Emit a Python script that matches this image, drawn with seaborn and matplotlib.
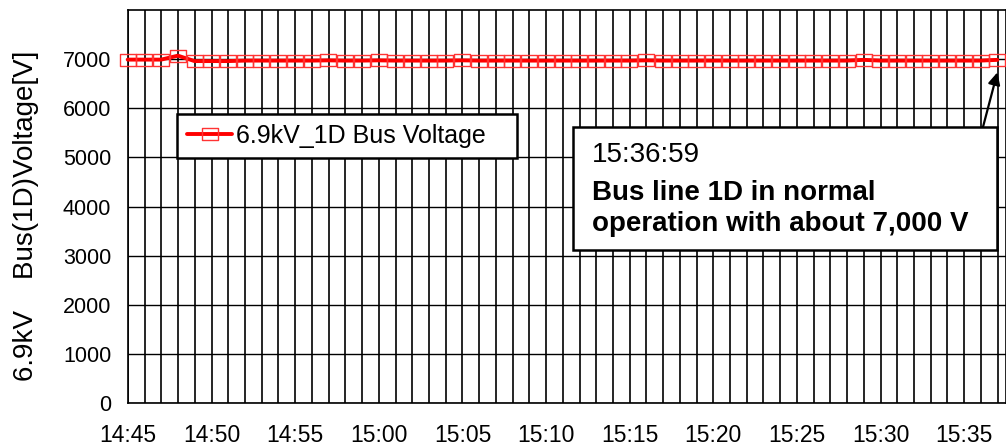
import pandas as pd
import seaborn as sns
import matplotlib.pyplot as plt
import matplotlib.dates as mdates
from matplotlib.path import Path
from matplotlib.patches import Rectangle

# Datos: tension del bus 6.9kV 1D, una muestra por minuto (hh:mm:59)
times = pd.date_range('2011-03-11 14:44:59', '2011-03-11 15:36:59', freq='1min')
voltage = [6990, 6990, 6990, 7070, 6960, 6960, 6960, 6970, 6970, 6970,
           6970, 6970, 6975, 6970, 6970, 6975, 6970, 6970, 6970, 6970,
           6975, 6970, 6970, 6970, 6970, 6970, 6970, 6970, 6970, 6970,
           6970, 6975, 6970, 6970, 6970, 6970, 6970, 6970, 6970, 6970,
           6970, 6970, 6970, 6970, 6985, 6970, 6970, 6970, 6970, 6970,
           6970, 6970, 6985]
yticks = [0, 1000, 2000, 3000, 4000, 5000, 6000, 7000]
series_label = '6.9kV_1D Bus Voltage'
note_time = '15:36:59'
note_text = 'Bus line 1D in normal\noperation with about 7,000 V'

df = pd.DataFrame({'time': times, 'voltage': voltage})

sns.set_style('white')
plt.rcParams['font.family'] = ['Liberation Sans', 'DejaVu Sans']
plt.rcParams['text.color'] = 'black'
plt.rcParams['axes.labelcolor'] = 'black'
plt.rcParams['xtick.color'] = 'black'
plt.rcParams['ytick.color'] = 'black'

fig = plt.figure(figsize=(10.06, 4.48), dpi=100)
ax = fig.add_axes([0.1272, 0.1004, 0.8728, 0.8773])

# marcador rectangular (mas ancho que alto)
rect = Path([(-1.3, -1), (1.3, -1), (1.3, 1), (-1.3, 1), (-1.3, -1)],
            [Path.MOVETO, Path.LINETO, Path.LINETO, Path.LINETO, Path.CLOSEPOLY])

sns.lineplot(data=df, x='time', y='voltage', ax=ax, color='red', linewidth=2.8,
             marker=rect, markersize=11, markerfacecolor='none',
             markeredgecolor='#ff3333', markeredgewidth=1.0,
             label=series_label + '   ', clip_on=False, zorder=5)

ax.set_ylim(0, 8000)
ax.set_yticks(yticks)
ax.set_xlim(pd.Timestamp('2011-03-11 14:45:00'), pd.Timestamp('2011-03-11 15:37:30'))
ax.xaxis.set_major_locator(mdates.MinuteLocator(byminute=range(0, 60, 5)))
ax.xaxis.set_minor_locator(mdates.MinuteLocator())
ax.xaxis.set_major_formatter(mdates.DateFormatter('%H:%M'))

ax.grid(axis='x', which='both', color='black', linewidth=1.2)
ax.grid(axis='y', which='major', color='black', linewidth=1.0)
ax.set_axisbelow(True)
for s in ax.spines.values():
    s.set_color('black')
    s.set_linewidth(1.2)

ax.tick_params(axis='both', which='both', length=0)
ax.tick_params(axis='y', labelsize=15.5, pad=12)
ax.tick_params(axis='x', labelsize=16.5, pad=15)
ax.set_xlabel('')
ax.set_ylabel('6.9kV    Bus(1D)Voltage[V]', fontsize=20)
ax.yaxis.set_label_coords(-0.101, 0.476)

leg = ax.legend(loc='upper left', bbox_to_anchor=(0.176, 0.7455),
                bbox_transform=fig.transFigure, fontsize=18, frameon=True,
                fancybox=False, edgecolor='black', framealpha=1,
                handlelength=1.8, handletextpad=0.15, borderpad=0.4,
                borderaxespad=0)
leg.get_frame().set_linewidth(1.8)

# cuadro de anotacion
fig.add_artist(Rectangle((0.5696, 0.442), 0.4214, 0.2745, transform=fig.transFigure,
                         facecolor='white', edgecolor='black', linewidth=1.8, zorder=6))
fig.text(0.5885, 0.654, note_time, fontsize=20, va='center', ha='left', zorder=7)
fig.text(0.5885, 0.5357, note_text, fontsize=20, fontweight='bold', va='center',
         ha='left', linespacing=1.25, zorder=7)
ax.annotate('', xy=(times[-1], 6730), xycoords='data', xytext=(983, 321),
            textcoords='figure pixels',
            arrowprops=dict(arrowstyle='-|>', color='black', lw=1.6,
                            mutation_scale=18, shrinkA=0, shrinkB=0),
            annotation_clip=False, zorder=8)

plt.savefig('out.png', dpi=100)
